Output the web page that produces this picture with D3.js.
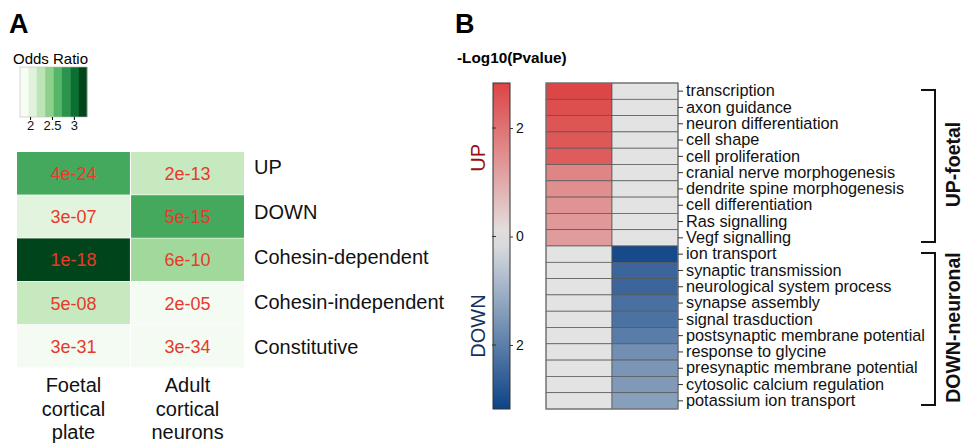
<!DOCTYPE html>
<html>
<head>
<meta charset="utf-8">
<script src="https://cdn.jsdelivr.net/npm/d3@7"></script>
<style>
  body { margin: 0; background: #fff; }
  svg { display: block; font-family: "Liberation Sans", Arial, sans-serif; }
  .rowlab text { font-size: 16.3px; fill: #111; }
  .rowlab line { stroke: #333; }
  .cbaxis text { font-size: 14px; fill: #111; }
  .cbaxis line { stroke: #333; }
</style>
</head>
<body>
<svg id="fig" width="963" height="443"></svg>
<script>
// ---- panel A data
var oddsRows = ['UP', 'DOWN', 'Cohesin-dependent', 'Cohesin-independent', 'Constitutive'];
var oddsCols = [['Foetal', 'cortical', 'plate'], ['Adult', 'cortical', 'neurons']];
var foetalOR = [2.73, 1.96, 3.3, 2.15, 1.8];
var adultOR = [2.15, 2.73, 2.34, 1.8, 1.8];
var foetalP = ['4e-24', '3e-07', '1e-18', '5e-08', '3e-31'];
var adultP = ['2e-13', '5e-15', '6e-10', '2e-05', '3e-34'];
var orTicks = [2, 2.5, 3];
var orRange = [1.77, 3.3];

// ---- panel B data
var goTerms = ['transcription', 'axon guidance', 'neuron differentiation', 'cell shape',
    'cell proliferation', 'cranial nerve morphogenesis', 'dendrite spine morphogenesis',
    'cell differentiation', 'Ras signalling', 'Vegf signalling', 'ion transport',
    'synaptic transmission', 'neurological system process', 'synapse assembly',
    'signal trasduction', 'postsynaptic membrane potential', 'response to glycine',
    'presynaptic membrane potential', 'cytosolic calcium regulation', 'potassium ion transport'];
var upLogP = [2.8, 2.65, 2.53, 2.48, 2.4, 1.67, 1.51, 1.42, 1.34, 1.27, 0, 0, 0, 0, 0, 0, 0, 0, 0, 0];
var downLogP = [0, 0, 0, 0, 0, 0, 0, 0, 0, 0, 3.05, 2.5, 2.48, 2.28, 2.25, 2.05, 1.68, 1.55, 1.47, 1.35];
var pTicks = [2, 0, -2];
var pRange = [-3.18, 2.83];
var groups = [{name: 'UP-foetal', from: 'transcription', to: 'Vegf signalling'},
              {name: 'DOWN-neuronal', from: 'ion transport', to: 'potassium ion transport'}];

var svg = d3.select('#fig');

//panel letters
svg.append('text').attr('x', 9).attr('y', 33).style('font-size', '27px').style('font-weight', 'bold').text('A');
svg.append('text').attr('x', 455).attr('y', 33).style('font-size', '27px').style('font-weight', 'bold').text('B');

// ================= PANEL A =================
var green = d3.scaleSequential(d3.interpolateGreens).domain(orRange);

//legend
svg.append('text').attr('x', 13).attr('y', 64).style('font-size', '15px').text('Odds Ratio');
var lx = d3.scaleLinear().domain(orRange).range([20, 87]);
var bands = d3.quantize(d3.interpolateGreens, 8);
var bw = (lx.range()[1] - lx.range()[0]) / bands.length;
svg.append('g').selectAll('rect').data(bands).enter().append('rect')
    .attr('x', (d, i) => lx.range()[0] + i * bw)
    .attr('y', 67)
    .attr('width', bw + 0.3)
    .attr('height', 50)
    .attr('fill', d => d);
svg.append('rect').attr('x', 20).attr('y', 67).attr('width', 67).attr('height', 50)
    .attr('fill', 'none').attr('stroke', '#bbb').attr('stroke-width', 0.6);
var lax = svg.append('g').attr('transform', 'translate(0,117)')
    .call(d3.axisBottom(lx).tickValues(orTicks).tickSize(3).tickPadding(1).tickFormat(d3.format('')));
lax.select('.domain').remove();
lax.selectAll('text').style('font-size', '13px').style('fill', '#111').style('font-family', 'Liberation Sans, Arial, sans-serif');

//heatmap
var ax = d3.scaleBand().domain([0, 1]).range([17, 244]).paddingInner(0.01);
var ay = d3.scaleBand().domain(oddsRows).range([152, 368]);
var cellsA = [];
oddsRows.forEach((r, i) => {
    cellsA.push({row: r, col: 0, or: foetalOR[i], p: foetalP[i]});
    cellsA.push({row: r, col: 1, or: adultOR[i], p: adultP[i]});
});
var ga = svg.append('g');
ga.selectAll('rect').data(cellsA).enter().append('rect')
    .attr('x', d => ax(d.col))
    .attr('y', d => ay(d.row))
    .attr('width', ax.bandwidth())
    .attr('height', ay.bandwidth() - 0.6)
    .attr('fill', d => green(d.or));
ga.selectAll('text').data(cellsA).enter().append('text')
    .attr('x', d => ax(d.col) + ax.bandwidth() / 2)
    .attr('y', d => ay(d.row) + ay.bandwidth() / 2)
    .attr('dy', '0.36em')
    .attr('text-anchor', 'middle')
    .style('font-size', '18px')
    .style('fill', '#e8392b')
    .text(d => d.p);

//row labels
var aly = d3.scaleBand().domain(oddsRows).range([144, 369]);
svg.append('g').selectAll('text').data(oddsRows).enter().append('text')
    .attr('x', 254)
    .attr('y', d => aly(d) + aly.bandwidth() / 2)
    .attr('dy', '0.36em')
    .style('font-size', '20px')
    .style('fill', '#111')
    .text(d => d);

//column labels
var colLab = svg.append('g').selectAll('text').data(oddsCols).enter().append('text')
    .attr('x', (d, i) => ax(i) + ax.bandwidth() / 2)
    .attr('y', 392)
    .attr('text-anchor', 'middle')
    .style('font-size', '20px')
    .style('fill', '#111');
colLab.selectAll('tspan').data(d => d).enter().append('tspan')
    .attr('x', function() { return d3.select(this.parentNode).attr('x'); })
    .attr('dy', (d, i) => i === 0 ? 0 : 23.5)
    .text(d => d);

// ================= PANEL B =================
var div = d3.scaleLinear().domain([pRange[0], 0, pRange[1]])
    .range(['#0d4387', '#e3e3e3', '#dd4444']).interpolate(d3.interpolateRgb);

svg.append('text').attr('x', 457).attr('y', 63).style('font-size', '15.3px').style('font-weight', 'bold')
    .text('-Log10(Pvalue)');

//colorbar
var cy = d3.scaleLinear().domain([pRange[1], pRange[0]]).range([83, 409]);
var grad = svg.append('defs').append('linearGradient').attr('id', 'cbgrad')
    .attr('x1', 0).attr('x2', 0).attr('y1', 0).attr('y2', 1);
grad.selectAll('stop').data(d3.range(0, 1.0001, 0.05)).enter().append('stop')
    .attr('offset', d => d)
    .attr('stop-color', d => div(pRange[1] + d * (pRange[0] - pRange[1])));
svg.append('rect').attr('x', 493).attr('y', 83).attr('width', 17).attr('height', 326)
    .attr('fill', 'url(#cbgrad)').attr('stroke', '#333').attr('stroke-width', 1);
var cax = svg.append('g').attr('class', 'cbaxis').attr('transform', 'translate(510,0)')
    .call(d3.axisRight(cy).tickValues(pTicks).tickSize(3).tickPadding(3).tickFormat(d => Math.abs(d)));
cax.select('.domain').remove();
cax.selectAll('text').style('font-family', 'Liberation Sans, Arial, sans-serif');
svg.append('g').selectAll('line').data(pTicks).enter().append('line')
    .attr('x1', 492).attr('x2', 496)
    .attr('y1', d => cy(d)).attr('y2', d => cy(d))
    .attr('stroke', '#333');

svg.append('text').attr('transform', 'translate(485,' + cy(1.45) + ') rotate(-90)')
    .attr('text-anchor', 'middle').style('font-size', '20px').style('fill', '#990f0f').text('UP');
svg.append('text').attr('transform', 'translate(485,' + cy(-1.65) + ') rotate(-90)')
    .attr('text-anchor', 'middle').style('font-size', '20px').style('fill', '#15305e').text('DOWN');

//heatmap
var bx = d3.scaleBand().domain(['up', 'down']).range([546, 678]);
var by = d3.scaleBand().domain(goTerms).range([83, 409]);
var cellsB = [];
goTerms.forEach((t, i) => {
    cellsB.push({term: t, col: 'up', v: upLogP[i]});
    cellsB.push({term: t, col: 'down', v: -downLogP[i]});
});
var gb = svg.append('g');
gb.selectAll('rect').data(cellsB).enter().append('rect')
    .attr('x', d => bx(d.col))
    .attr('y', d => by(d.term))
    .attr('width', bx.bandwidth())
    .attr('height', by.bandwidth())
    .attr('fill', d => div(d.v))
    .attr('stroke', '#555')
    .attr('stroke-width', 0.7);
svg.append('rect').attr('x', 546).attr('y', 83).attr('width', 132).attr('height', 326)
    .attr('fill', 'none').attr('stroke', '#777').attr('stroke-width', 1.2);

var rax = svg.append('g').attr('class', 'rowlab').attr('transform', 'translate(678,0)')
    .call(d3.axisRight(by).tickSize(5).tickPadding(3));
rax.select('.domain').remove();
rax.selectAll('text').style('font-family', 'Liberation Sans, Arial, sans-serif');

//group brackets
var bg = svg.append('g').selectAll('g').data(groups).enter().append('g');
bg.append('path')
    .attr('d', d => {
        var y0 = by(d.from) + 7, y1 = by(d.to) + by.bandwidth() - 4;
        return 'M921,' + y0 + 'H935V' + y1 + 'H921';
    })
    .attr('fill', 'none').attr('stroke', '#111').attr('stroke-width', 2);
bg.append('text')
    .attr('transform', d => {
        var m = (by(d.from) + by(d.to) + by.bandwidth()) / 2;
        return 'translate(960,' + m + ') rotate(-90)';
    })
    .attr('text-anchor', 'middle')
    .style('font-size', '19.5px').style('font-weight', 'bold').style('fill', '#111')
    .text(d => d.name);
</script>
</body>
</html>
